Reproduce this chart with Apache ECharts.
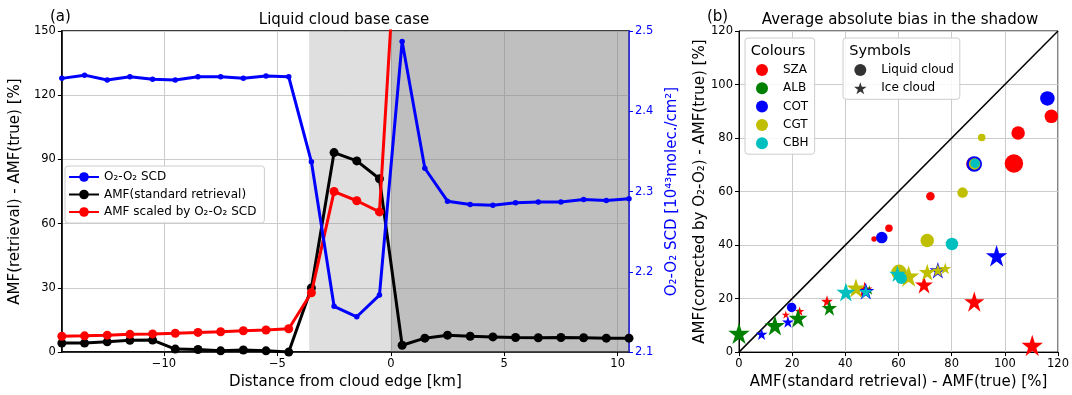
<!DOCTYPE html>
<html><head><meta charset="utf-8">
<script src="https://cdn.jsdelivr.net/npm/echarts@6/dist/echarts.min.js"></script>
<style>html,body{margin:0;padding:0;background:#fff}#c{width:1072px;height:395px}</style>
</head><body><div id="c"></div>
<script>
// ---------- Panel (a) data ----------
const distance = [-14.5,-13.5,-12.5,-11.5,-10.5,-9.5,-8.5,-7.5,-6.5,-5.5,-4.5,-3.5,-2.5,-1.5,-0.5,0.5,1.5,2.5,3.5,4.5,5.5,6.5,7.5,8.5,9.5,10.5];
const o4Scd = [2.441,2.445,2.439,2.443,2.440,2.439,2.443,2.443,2.441,2.444,2.443,2.337,2.157,2.144,2.171,2.487,2.329,2.288,2.284,2.283,2.286,2.287,2.287,2.290,2.289,2.291];
const amfStandard = [4.2,4.2,4.8,5.5,5.6,1.4,1.2,0.6,1.0,0.6,0.0,30,93.2,89.3,81,3.2,6.5,7.9,7.4,7.1,6.8,6.7,6.8,6.7,6.5,6.5];
const amfScaled = [7.4,7.6,7.9,8.3,8.5,8.8,9.2,9.5,10,10.3,10.9,27.7,75,70.7,65.5,240,null,null,null,null,null,null,null,null,null,null];
const shadowPartial = [-3.6, 0];
const shadowFull = [0, 10.5];

// ---------- Panel (b) data: [standard bias, corrected bias] ----------
const szaLiquid = [[117.5,88.1],[105,81.9],[103.4,70.5],[88.2,70.3],[72,58.2],[56.4,46.3],[50.8,42.3]];
const szaIce = [[110.3,2.5],[88.5,18.9],[69.6,25.2],[47.3,23.5],[33.1,19],[22.8,15.3],[17.6,14]];
const albLiquid = [];
const albIce = [[0,7],[13.5,10],[22.2,12.7],[34,16.5],[49,23.2]];
const cotLiquid = [[116,94.8],[88.5,70.3],[53.7,42.8],[19.8,16.7]];
const cotIce = [[96.9,36],[74.8,30.6],[47.7,22.8],[18.4,11.3],[8.5,6.7]];
const cgtLiquid = [[91.3,80.2],[88.6,70.3],[84.1,59.6],[70.8,41.7],[60.2,29.8]];
const cgtIce = [[77.6,31.3],[74.8,30.6],[70.8,29.9],[63.8,28.4],[44,24]];
const cbhLiquid = [[88.8,70.5],[80.1,40.4],[61,27.6]];
const cbhIce = [[59.6,29.3],[40.2,22.5],[47.7,22.6]];
const oneToOne = [[0,0],[120,120]];
// marker sizes (encode parameter magnitude)
const szaLiquidSz = [13,13,18,14,8,7,5];
const szaIceSz = [17,16,14,12,9,7,6];
const albLiquidSz = [];
const albIceSz = [17,16,15,12,7];
const cotLiquidSz = [14,15,11,9];
const cotIceSz = [17,13,13,9,9];
const cgtLiquidSz = [7,11,10,13,15];
const cgtIceSz = [9,10,13,17,15];
const cbhLiquidSz = [9,12,11];
const cbhIceSz = [13,15,10];

const FONT = 'DejaVu Sans';
const STAR = 'path://M50,0 L61.2,34.5 L97.6,34.5 L68.2,55.9 L79.4,90.5 L50,69.1 L20.6,90.5 L31.8,55.9 L2.4,34.5 L38.8,34.5 Z';
const minus = v => String(v).replace('-', '\u2212');
const starScale = s => s * 1.2 + 1;

const chart = echarts.init(document.getElementById('c'), null, {renderer: 'canvas'});

const groups = [
  {name: 'SZA', color: '#ff0000', liq: szaLiquid, liqSz: szaLiquidSz, ice: szaIce, iceSz: szaIceSz},
  {name: 'ALB', color: '#008000', liq: albLiquid, liqSz: albLiquidSz, ice: albIce, iceSz: albIceSz},
  {name: 'COT', color: '#0000ff', liq: cotLiquid, liqSz: cotLiquidSz, ice: cotIce, iceSz: cotIceSz},
  {name: 'CGT', color: '#bfbf00', liq: cgtLiquid, liqSz: cgtLiquidSz, ice: cgtIce, iceSz: cgtIceSz},
  {name: 'CBH', color: '#00bfbf', liq: cbhLiquid, liqSz: cbhLiquidSz, ice: cbhIce, iceSz: cbhIceSz}
];

const scatterSeries = [];
groups.forEach((g, gi) => {
  scatterSeries.push({
    type: 'scatter', name: g.name, xAxisIndex: 1, yAxisIndex: 2, clip: false,
    data: g.liq, symbol: 'circle',
    symbolSize: (v, p) => g.liqSz[p.dataIndex] + 0.5,
    itemStyle: {color: g.color, opacity: 1}, z: 3 + gi * 2, silent: true
  });
  scatterSeries.push({
    type: 'scatter', name: g.name + ' ice', xAxisIndex: 1, yAxisIndex: 2, clip: false,
    data: g.ice, symbol: STAR,
    symbolSize: (v, p) => starScale(g.iceSz[p.dataIndex]),
    itemStyle: {color: g.color, opacity: 1}, z: 4 + gi * 2, silent: true
  });
});

const pairs = (xs, ys) => xs.map((x, i) => [x, ys[i]]);
const axisTxt = {color: '#000', fontFamily: FONT, fontSize: 11.5};

const option = {
  animation: false,
  textStyle: {fontFamily: FONT},
  grid: [
    {left: 59, top: 31, width: 570, height: 330, show: true, borderColor: '#000', borderWidth: 1.5, backgroundColor: 'transparent', containLabel: false},
    {left: 739, top: 31, width: 321, height: 330, show: true, borderColor: '#000', borderWidth: 1, backgroundColor: 'transparent', containLabel: false}
  ],
  xAxis: [
    {type: 'value', gridIndex: 0, min: -14.5, max: 10.5, splitNumber: 5,
     name: 'Distance from cloud edge [km]', nameLocation: 'middle', nameGap: 21,
     nameTextStyle: {color: '#000', fontSize: 15, fontFamily: FONT},
     axisLine: {show: true, onZero: false, lineStyle: {color: '#000', width: 1.5}},
     axisTick: {show: true, length: 4, lineStyle: {color: '#000'}},
     axisLabel: Object.assign({margin: 6, showMinLabel: false, showMaxLabel: false,
       formatter: v => (Math.abs(v % 5) < 1e-9 ? minus(v) : '')}, axisTxt),
     splitLine: {show: true, lineStyle: {color: '#cccccc', width: 1}}},
    {type: 'value', gridIndex: 1, min: 0, max: 120, interval: 20,
     name: 'AMF(standard retrieval) - AMF(true) [%]', nameLocation: 'middle', nameGap: 21,
     nameTextStyle: {color: '#000', fontSize: 15, fontFamily: FONT},
     axisLine: {show: true, onZero: false, lineStyle: {color: '#000', width: 1}},
     axisTick: {show: true, length: 4, lineStyle: {color: '#000'}},
     axisLabel: Object.assign({margin: 6}, axisTxt),
     splitLine: {show: true, lineStyle: {color: '#cccccc', width: 1}}}
  ],
  yAxis: [
    {type: 'value', gridIndex: 0, min: 0, max: 150, interval: 30,
     name: 'AMF(retrieval) - AMF(true) [%]', nameLocation: 'middle', nameGap: 24,
     nameTextStyle: {color: '#000', fontSize: 15, fontFamily: FONT},
     axisLine: {show: true, onZero: false, lineStyle: {color: '#000', width: 1.5}},
     axisTick: {show: true, length: 4, lineStyle: {color: '#000'}},
     axisLabel: Object.assign({margin: 6}, axisTxt),
     splitLine: {show: true, lineStyle: {color: '#cccccc', width: 1}}},
    {type: 'value', gridIndex: 0, position: 'right', min: 2.1, max: 2.5, interval: 0.1,
     name: 'O\u2082-O\u2082 SCD [10\u2074\u00B3molec./cm\u00B2]', nameLocation: 'middle', nameGap: 19,
     nameTextStyle: {color: '#0000ff', fontSize: 15, fontFamily: FONT},
     axisLine: {show: true, onZero: false, lineStyle: {color: '#0000ff', width: 1.5}},
     axisTick: {show: true, length: 4, lineStyle: {color: '#0000ff'}},
     axisLabel: {margin: 6, color: '#0000ff', fontFamily: FONT, fontSize: 11.5, formatter: v => v.toFixed(1)},
     splitLine: {show: false}},
    {type: 'value', gridIndex: 1, min: 0, max: 120, interval: 20,
     name: 'AMF(corrected by O\u2082-O\u2082) - AMF(true) [%]', nameLocation: 'middle', nameGap: 30,
     nameTextStyle: {color: '#000', fontSize: 15, fontFamily: FONT},
     axisLine: {show: true, onZero: false, lineStyle: {color: '#000', width: 1}},
     axisTick: {show: true, length: 4, lineStyle: {color: '#000'}},
     axisLabel: Object.assign({margin: 6}, axisTxt),
     splitLine: {show: true, lineStyle: {color: '#cccccc', width: 1}}}
  ],
  legend: [
    {left: 65, top: 166, orient: 'vertical', itemWidth: 30, itemHeight: 12, itemGap: 5.5,
     padding: [5, 8, 5, 3], backgroundColor: 'rgba(255,255,255,0.85)', borderColor: '#cccccc', borderWidth: 1, borderRadius: 3,
     textStyle: {fontSize: 12, fontFamily: FONT, color: '#000'}, selectedMode: false,
     data: ['O\u2082-O\u2082 SCD', 'AMF(standard retrieval)', 'AMF scaled by O\u2082-O\u2082 SCD']},
    {left: 745, top: 38, orient: 'vertical', itemWidth: 32, itemHeight: 12, itemGap: 6.3,
     padding: [26, 6, 5, 11], backgroundColor: 'rgba(255,255,255,0.85)', borderColor: '#cccccc', borderWidth: 1, borderRadius: 3,
     textStyle: {fontSize: 12, fontFamily: FONT, color: '#000'}, selectedMode: false,
     data: groups.map(g => ({name: g.name, icon: 'circle'}))},
    {left: 843, top: 38, orient: 'vertical', itemWidth: 32, itemHeight: 12, itemGap: 6.3,
     padding: [26, 6, 5, 11], backgroundColor: 'rgba(255,255,255,0.85)', borderColor: '#cccccc', borderWidth: 1, borderRadius: 3,
     textStyle: {fontSize: 12, fontFamily: FONT, color: '#000'}, selectedMode: false, symbolKeepAspect: true,
     data: [{name: 'Liquid cloud', icon: 'circle'}, {name: 'Ice cloud', icon: STAR}]}
  ],
  graphic: [
    {type: 'text', left: 50, top: 10, z: 100, style: {text: '(a)', font: '15px "DejaVu Sans"', fill: '#000'}},
    {type: 'text', x: 344, y: 20, z: 100, style: {text: 'Liquid cloud base case', font: '15px "DejaVu Sans"', fill: '#000', textAlign: 'center', textVerticalAlign: 'middle'}},
    {type: 'text', left: 707, top: 10, z: 100, style: {text: '(b)', font: '15px "DejaVu Sans"', fill: '#000'}},
    {type: 'text', x: 900, y: 20, z: 100, style: {text: 'Average absolute bias in the shadow', font: '15px "DejaVu Sans"', fill: '#000', textAlign: 'center', textVerticalAlign: 'middle'}},
    {type: 'text', x: 778, y: 51, z: 100, style: {text: 'Colours', font: '14.5px "DejaVu Sans"', fill: '#000', textAlign: 'center', textVerticalAlign: 'middle'}},
    {type: 'text', x: 880, y: 51, z: 100, style: {text: 'Symbols', font: '14.5px "DejaVu Sans"', fill: '#000', textAlign: 'center', textVerticalAlign: 'middle'}}
  ],
  series: [
    {type: 'line', name: 'shade', xAxisIndex: 0, yAxisIndex: 0, data: [], silent: true, z: 1,
     markArea: {silent: true, label: {show: false},
       data: [
         [{xAxis: shadowPartial[0], itemStyle: {color: 'rgba(128,128,128,0.25)'}}, {xAxis: shadowPartial[1]}],
         [{xAxis: shadowFull[0], itemStyle: {color: 'rgba(128,128,128,0.5)'}}, {xAxis: shadowFull[1]}]
       ]}},
    {type: 'line', name: 'AMF(standard retrieval)', xAxisIndex: 0, yAxisIndex: 0, data: pairs(distance, amfStandard),
     symbol: 'circle', symbolSize: 9, showAllSymbol: true, clip: true, z: 3,
     lineStyle: {color: '#000', width: 3}, itemStyle: {color: '#000'}},
    {type: 'line', name: 'AMF scaled by O\u2082-O\u2082 SCD', xAxisIndex: 0, yAxisIndex: 0, data: pairs(distance, amfScaled),
     symbol: 'circle', symbolSize: 9, showAllSymbol: true, clip: true, z: 4, connectNulls: false,
     lineStyle: {color: '#ff0000', width: 3}, itemStyle: {color: '#ff0000'}},
    {type: 'line', name: 'O\u2082-O\u2082 SCD', xAxisIndex: 0, yAxisIndex: 1, data: pairs(distance, o4Scd),
     symbol: 'circle', symbolSize: 5.5, showAllSymbol: true, clip: true, z: 5,
     lineStyle: {color: '#0000ff', width: 3}, itemStyle: {color: '#0000ff'}},
    {type: 'line', name: 'one-to-one', xAxisIndex: 1, yAxisIndex: 2, data: oneToOne, symbol: 'none',
     lineStyle: {color: '#000', width: 1.5}, z: 2, silent: true},
    ...scatterSeries,
    {type: 'scatter', name: 'Liquid cloud', xAxisIndex: 1, yAxisIndex: 2, data: [], symbol: 'circle', itemStyle: {color: '#000'}},
    {type: 'scatter', name: 'Ice cloud', xAxisIndex: 1, yAxisIndex: 2, data: [], symbol: STAR, itemStyle: {color: '#000'}}
  ]
};
chart.setOption(option);
</script>
</body></html>
